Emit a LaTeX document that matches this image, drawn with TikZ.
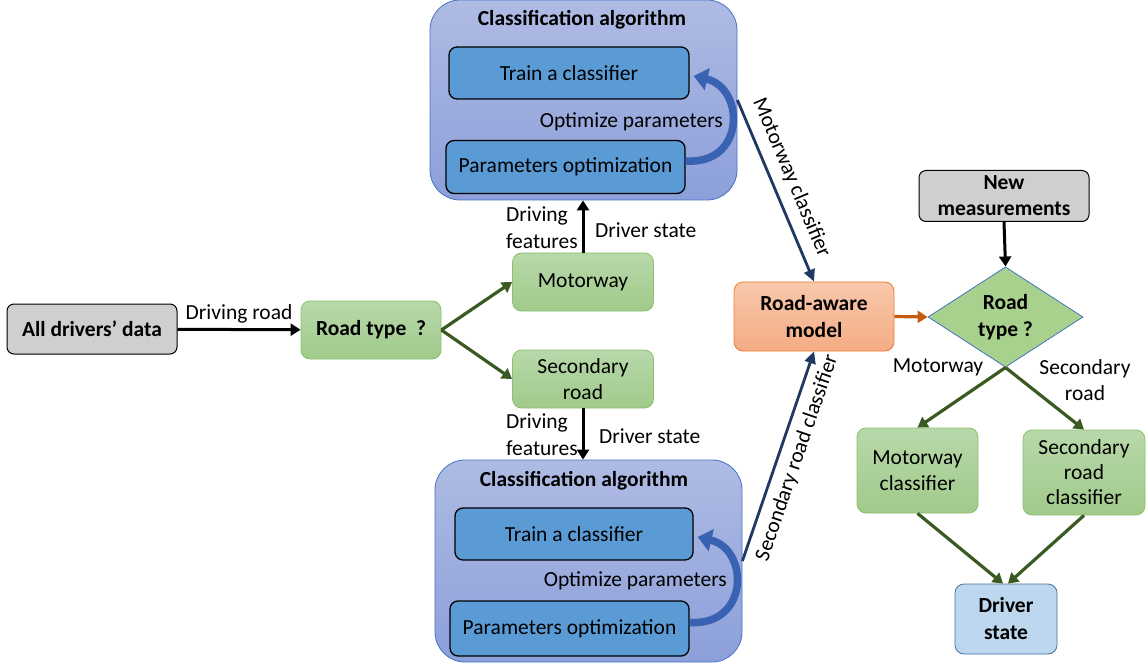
\documentclass[tikz,border=0pt]{standalone}
\usepackage{fontspec}
\setmainfont{Carlito}
\usetikzlibrary{arrows.meta,shapes.geometric}

\definecolor{boxgray}{HTML}{D0CECE}
\definecolor{boxblue}{HTML}{5B9BD5}
\definecolor{contop}{HTML}{AEBBE3}
\definecolor{conbot}{HTML}{8C9FDA}
\definecolor{conedge}{HTML}{4472C4}
\definecolor{greentop}{HTML}{B8D8AA}
\definecolor{greenbot}{HTML}{A0CA8A}
\definecolor{greenedge}{HTML}{8CC06C}
\definecolor{darkgreen}{HTML}{3B5A22}
\definecolor{navy}{HTML}{203864}
\definecolor{orangetop}{HTML}{F8C8AB}
\definecolor{orangebot}{HTML}{F4AC85}
\definecolor{orangeedge}{HTML}{ED7D31}
\definecolor{orangearrow}{HTML}{C55A11}
\definecolor{diamondfill}{HTML}{A9D18E}
\definecolor{statefill}{HTML}{BDD7EE}
\definecolor{stateedge}{HTML}{41719C}
\definecolor{loopblue}{HTML}{3A62B2}

\tikzset{
  every node/.style={font=\fontsize{21.5}{26}\selectfont, align=center, inner sep=0pt},
  graybox/.style={draw=black, line width=1pt, fill=boxgray, rounded corners=7pt, font=\fontsize{21.5}{26}\selectfont\bfseries},
  container/.style={draw=conedge, line width=0.8pt, top color=contop, bottom color=conbot, rounded corners=30pt},
  bluebox/.style={draw=black, line width=1.3pt, fill=boxblue, rounded corners=8pt},
  greenbox/.style={draw=greenedge, line width=0.8pt, top color=greentop, bottom color=greenbot, rounded corners=9pt},
  blackarrow/.style={draw=black, line width=3pt, -{Triangle[width=12pt,length=10pt]}},
  greenarrow/.style={draw=darkgreen, line width=3.2pt, -{Triangle[width=12pt,length=10pt]}},
  navyarrow/.style={draw=navy, line width=2.8pt, -{Triangle[width=11pt,length=12pt]}},
  looparrow/.style={draw=loopblue, line width=7.5pt, -{Triangle[width=22pt,length=14pt]}},
  lbl/.style={font=\fontsize{21.5}{27}\selectfont},
  bold/.style={font=\fontsize{21.5}{27}\selectfont\bfseries},
}

\begin{document}
\begin{tikzpicture}[x=1pt,y=-1pt]
\useasboundingbox (0,0) rectangle (1148,668);

% ---- input side ----
\node[graybox, minimum width=170pt, minimum height=50pt] (all) at (92,329) {All drivers’ data};
\node[greenbox, minimum width=140pt, minimum height=58pt, bold] (rt) at (371,330) {Road type\ \ ?};
\draw[blackarrow] (all) -- node[above=5pt, lbl] {Driving road} (rt);

\node[greenbox, minimum width=141pt, minimum height=58pt] (mw) at (583,282) {Motorway};
\node[greenbox, minimum width=141pt, minimum height=58pt, font=\fontsize{21.5}{26}\selectfont] (sr) at (583,379) {Secondary\\road};
\draw[greenarrow] (rt.east) -- (mw.west);
\draw[greenarrow] (rt.east) -- (sr.west);

% ---- top classification block ----
\node[container, minimum width=307pt, minimum height=200pt] (topC) at (583.5,100) {};
\node[bold] (topT) at (582,20) {Classification algorithm};
\node[bluebox, minimum width=240pt, minimum height=52pt] (topTrain) at (569,73) {Train a classifier};
\node[bluebox, minimum width=239pt, minimum height=53pt] (topOpt) at (565.5,167) {Parameters optimization};
\node[lbl, anchor=east] (topOL) at (723,122) {Optimize parameters};
\draw[looparrow] ([yshift=6pt]topOpt.east) .. controls (746,165) and (745,88) .. ([xshift=4pt,yshift=-3pt]topTrain.east);

% ---- bottom classification block ----
\node[container, minimum width=307pt, minimum height=202pt] (botC) at (588.5,561) {};
\node[bold] (botT) at (584,481) {Classification algorithm};
\node[bluebox, minimum width=238pt, minimum height=52pt] (botTrain) at (574,534) {Train a classifier};
\node[bluebox, minimum width=239pt, minimum height=55pt] (botOpt) at (569.5,628.5) {Parameters optimization};
\node[lbl, anchor=east] (botOL) at (727,581) {Optimize parameters};
\draw[looparrow] ([yshift=6pt]botOpt.east) .. controls (750,626) and (749,549) .. ([xshift=4pt,yshift=-3pt]botTrain.east);

% ---- links between road boxes and blocks ----
\draw[blackarrow] (mw.north) -- (mw.north |- topC.south);
\node[lbl, anchor=east, align=left] (mwF) at (578,228) {Driving\\features};
\node[lbl, anchor=west] (mwS) at (595,230) {Driver state};
\draw[blackarrow] (sr.south) -- (sr.south |- botC.north);
\node[lbl, anchor=east, align=left] (srF) at (578,435) {Driving\\features};
\node[lbl, anchor=west] (srS) at (599,436) {Driver state};

% ---- road-aware model ----
\node[draw=orangeedge, line width=0.8pt, top color=orangetop, bottom color=orangebot, rounded corners=9pt, minimum width=160pt, minimum height=69pt, bold] (ram) at (814,316.5) {Road-aware\\model};
\draw[navyarrow] (topC.east) -- node[sloped, above=9pt, lbl, pos=0.47] {Motorway classifier} (ram.north);
\draw[navyarrow] (botC.east) -- node[sloped, below=8pt, lbl, pos=0.52] {Secondary road classifier} (ram.south);

% ---- on-line decision part ----
\node[graybox, minimum width=170pt, minimum height=51pt] (new) at (1004,196) {New\\measurements};
\node[diamond, draw=conedge, line width=0.8pt, fill=diamondfill, minimum width=155pt, minimum height=98pt, bold] (rt2) at (1005.5,317) {Road\\type ?};
\draw[blackarrow] (new.south) -- (rt2.north);
\draw[draw=orangearrow, line width=3.2pt, -{Triangle[width=12pt,length=10pt]}] (ram.east) -- (rt2.west);

\node[lbl] (lm) at (938,367) {Motorway};
\node[lbl, font=\fontsize{21.5}{26}\selectfont] (ls) at (1085,380) {Secondary\\road};

\node[greenbox, minimum width=121pt, minimum height=85pt, font=\fontsize{21.5}{26}\selectfont] (mc) at (917.5,470.5) {Motorway\\classifier};
\node[greenbox, minimum width=122pt, minimum height=85pt, font=\fontsize{21.5}{25}\selectfont] (sc) at (1084,472.5) {Secondary\\road\\classifier};
\draw[greenarrow] (rt2.south) -- (mc.north);
\draw[greenarrow] (rt2.south) -- (sc.north);

\node[draw=stateedge, line width=0.8pt, fill=statefill, rounded corners=9pt, minimum width=102pt, minimum height=70pt, bold] (ds) at (1006,619) {Driver\\state};
\draw[greenarrow] (mc.south) -- ([xshift=-3pt]ds.north);
\draw[greenarrow] (sc.south) -- ([xshift=2pt]ds.north);
\end{tikzpicture}
\end{document}
